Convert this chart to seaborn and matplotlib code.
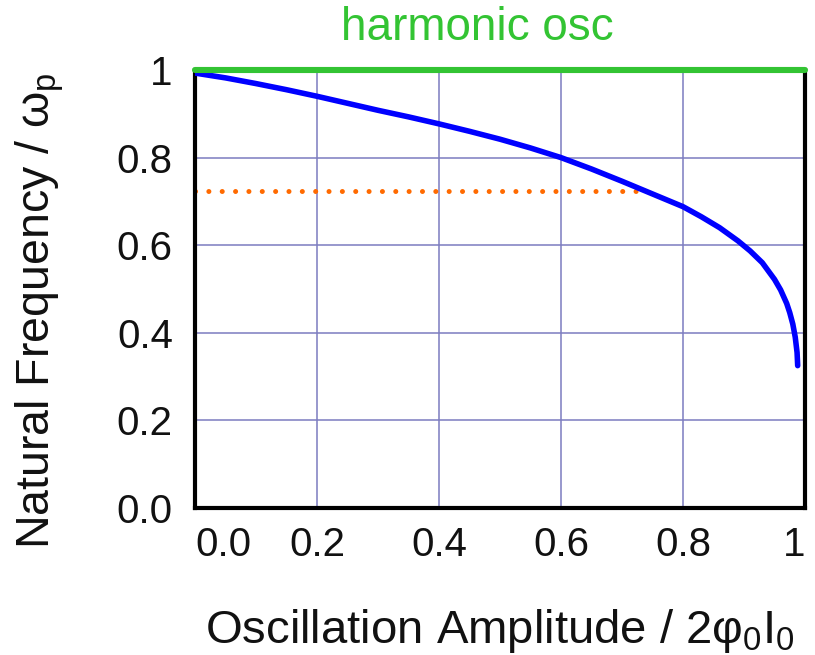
import matplotlib
matplotlib.use("Agg")
import matplotlib.pyplot as plt
import seaborn as sns
import pandas as pd

# Normalised natural frequency versus oscillation amplitude
amplitude = [0.0, 0.05, 0.1, 0.15, 0.2, 0.25, 0.3, 0.35, 0.4, 0.45, 0.5,
             0.55, 0.6, 0.65, 0.7, 0.75, 0.8, 0.83, 0.86, 0.89, 0.91, 0.93,
             0.95, 0.96, 0.97, 0.975, 0.98, 0.984, 0.987, 0.988]
frequency = [0.993, 0.982, 0.969, 0.955, 0.94, 0.924, 0.908, 0.893, 0.877,
             0.86, 0.842, 0.822, 0.80, 0.774, 0.746, 0.717, 0.688, 0.665,
             0.64, 0.61, 0.587, 0.56, 0.522, 0.498, 0.467, 0.446, 0.42,
             0.39, 0.355, 0.325]

# Harmonic oscillator reference (amplitude independent)
harmonic_x = [0.0, 1.0]
harmonic_y = [1.0, 1.0]

# Marked operating point
marker_x = [0.0, 0.728]
marker_y = [0.724, 0.724]

x_ticks = [0.0, 0.2, 0.4, 0.6, 0.8, 1.0]
x_tick_labels = ["0.0", "0.2", "0.4", "0.6", "0.8", "1"]
y_ticks = [0.0, 0.2, 0.4, 0.6, 0.8, 1.0]
y_tick_labels = ["0.0", "0.2", "0.4", "0.6", "0.8", "1"]

sns.set_style("white")
plt.rcParams["font.family"] = ["Liberation Sans", "DejaVu Sans"]
plt.rcParams["mathtext.fontset"] = "custom"
plt.rcParams["mathtext.rm"] = "Liberation Sans"
plt.rcParams["mathtext.it"] = "Liberation Sans"

fig = plt.figure(figsize=(8.15, 6.55), dpi=100)
ax = fig.add_axes([195 / 815, 1 - 508 / 655, 610 / 815, 438 / 655])

grid_color = "#7c7cc0"
for t in x_ticks[1:-1]:
    ax.axvline(t, color=grid_color, lw=1.1, zorder=0)
for t in y_ticks[1:-1]:
    ax.axhline(t, color=grid_color, lw=1.1, zorder=0)

curve = pd.DataFrame({"amplitude": amplitude, "frequency": frequency})
sns.lineplot(data=curve, x="amplitude", y="frequency", ax=ax,
             color="#0000ff", lw=4.0, solid_capstyle="round",
             solid_joinstyle="round", zorder=3)

sns.lineplot(x=marker_x, y=marker_y, ax=ax, color="#ff6a00", lw=3.6,
             zorder=2)
ax.lines[-1].set_linestyle((0, (0.01, 2.66)))
ax.lines[-1].set_dash_capstyle("round")

sns.lineplot(x=harmonic_x, y=harmonic_y, ax=ax, color="#33c433", lw=4.4,
             zorder=4)
ax.lines[-1].set_clip_on(False)

ax.set_xlim(0, 1)
ax.set_ylim(0, 1)

ax.set_xticks(x_ticks)
ax.set_xticklabels(x_tick_labels, fontsize=29)
ax.set_yticks(y_ticks)
ax.set_yticklabels(y_tick_labels, fontsize=29)
labels = ax.get_xticklabels()
labels[0].set_ha("left")
labels[-1].set_ha("right")
ax.tick_params(axis="both", length=0, colors="#111111")
ax.tick_params(axis="x", pad=13)
ax.tick_params(axis="y", pad=16)

for side in ["left", "right", "bottom"]:
    ax.spines[side].set_visible(True)
    ax.spines[side].set_color("black")
    ax.spines[side].set_linewidth(3.0)
ax.spines["top"].set_visible(False)

ax.set_xlabel(r"Oscillation Amplitude / 2$\varphi_0$I$_0$", fontsize=34,
              labelpad=31, color="#111111")
ax.set_ylabel(r"Natural Frequency / $\omega_\mathrm{p}$", fontsize=33.5,
              color="#111111")
ax.yaxis.set_label_coords(-0.212, 0.45)

ax.text(0.462, 1.097, "harmonic osc", transform=ax.transAxes, ha="center",
        va="center", fontsize=33, color="#33c433")

fig.savefig("out.png", dpi=100, facecolor="white")
